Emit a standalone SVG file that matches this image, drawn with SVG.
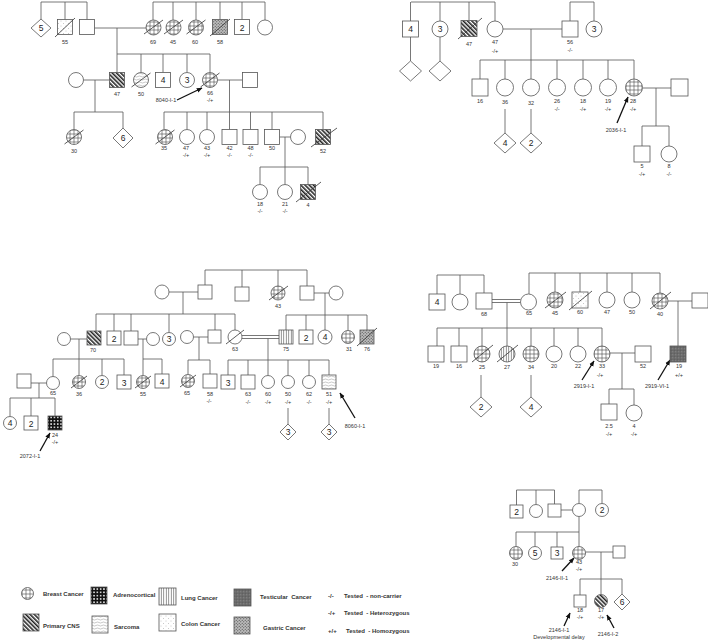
<svg xmlns="http://www.w3.org/2000/svg" width="708" height="642" viewBox="0 0 708 642">
<defs>
<style>
.sh{fill:#fff;stroke:#555;stroke-width:0.8}
.ln{fill:none;stroke:#555;stroke-width:0.8}
.sl{stroke:#333;stroke-width:0.8;fill:none}
.ar{stroke:#111;stroke-width:1.3;fill:none;marker-end:url(#ah)}
text{font-family:"Liberation Sans",Arial,sans-serif;fill:#333}
.lb{font-size:5.5px;text-anchor:middle}
.nm{font-size:8.5px;text-anchor:middle;fill:#222}
.lg{font-size:6px;font-weight:bold;fill:#333}
.br{fill:url(#pBreast)}
.cns{fill:url(#pCNS)}
.lu{fill:url(#pLung)}
.sa{fill:url(#pSarc)}
.co{fill:url(#pColon)}
.te{fill:url(#pTest)}
.ga{fill:url(#pGas)}
.ad{fill:url(#pAdr)}
</style>
<pattern id="pBreast" patternUnits="userSpaceOnUse" width="4" height="4"><rect width="4" height="4" fill="#fff"/><path d="M2,0V4M0,2H4" stroke="#444" stroke-width="0.6"/></pattern>
<pattern id="pCNS" patternUnits="userSpaceOnUse" width="3" height="3" patternTransform="rotate(-45)"><rect width="3" height="3" fill="#fff"/><rect width="1.6" height="3" fill="#222"/></pattern>
<pattern id="pLung" patternUnits="userSpaceOnUse" width="2.5" height="4"><rect width="2.5" height="4" fill="#fff"/><path d="M1.25,0V4" stroke="#333" stroke-width="0.6"/></pattern>
<pattern id="pSarc" patternUnits="userSpaceOnUse" width="6" height="3"><rect width="6" height="3" fill="#fff"/><path d="M0,1.5Q1.5,0.5 3,1.5T6,1.5" stroke="#777" stroke-width="0.4" fill="none"/></pattern>
<pattern id="pColon" patternUnits="userSpaceOnUse" width="5" height="5"><rect width="5" height="5" fill="#fff"/><circle cx="1" cy="1" r="0.4" fill="#888"/><circle cx="3.5" cy="3.5" r="0.4" fill="#888"/></pattern>
<pattern id="pTest" patternUnits="userSpaceOnUse" width="3" height="3"><rect width="3" height="3" fill="#6a6a6a"/><circle cx="0.8" cy="0.8" r="0.5" fill="#9a9a9a"/><circle cx="2.2" cy="2.2" r="0.4" fill="#444"/></pattern>
<pattern id="pGas" patternUnits="userSpaceOnUse" width="3" height="3"><rect width="3" height="3" fill="#bbb"/><circle cx="0.75" cy="0.75" r="0.6" fill="#444"/><circle cx="2.25" cy="2.25" r="0.6" fill="#444"/></pattern>
<pattern id="pAdr" patternUnits="userSpaceOnUse" width="3.3" height="3.3"><rect width="3.3" height="3.3" fill="#111"/><circle cx="1.65" cy="1.65" r="0.9" fill="#fff"/></pattern>
<marker id="ah" viewBox="0 0 10 10" refX="9" refY="5" markerWidth="4.5" markerHeight="4.5" orient="auto"><path d="M0,1L10,5L0,9z" fill="#111"/></marker>
</defs>
<rect width="708" height="642" fill="#fff"/>

<g id="connectors">
<path class="ln" d="M41,2H87M41,2V19M65,2V19.5M87,2V19.5M94.5,28H146M117,28V72.5M117,54H210M141,54V72.5M163,54V72.5M187,54V72.5M210,54V72.5M153,2H265M153,2V20M173,2V20M196,2V20M220,2V19.5M242,2V19.5M265,2V20M83.5,80H109.5M95,80V112M74,112H123M74,112V129.5M123,112V128M217.5,80H242.5M229.5,80V112M164,112H323M164,112V129.5M187,112V129.5M207,112V129.5M229.5,112V129.5M250.5,112V129.5M272,112V129.5M323,112V129.5M279.5,137H290.5M285,137V167M260,167H308M260,167V184.5M285,167V184.5M308,167V184.5"/>
<path class="ln" d="M411,2H495M410.5,2V21M440,2V21M469,2V20.5M495,2V21M410.5,37V61M440,37V61M503,29H562M570,2H594M570,2V21M594,2V21M531,29V79M480,60H634M480,60V79M505,60V79M557,60V79M583,60V79M608,60V79M634,60V79M642.5,88H671M656,88V126M642,126H669M642,126V146M669,126V146M505,109V133M531,109V133"/>
<path class="ln" d="M169,292H198M183,292V314M205,270H307M205,270V285M242,270V287M278,270V286M307,270V286M314,293H329M325,293V315M96,314H235M96,314V331M114,314V331M131,314V331M169,314V332.5M215,314V330M235,314V330M70.5,339H87M79,339V359M138,339H146.5M143,339V359M193.5,337H208M199,337V360M242,335.5H279M242,338.5H279M268,338.5V360M286,315H367M286,315V330M306,315V330M325,315V330M348,315V330.5M367,315V330M53,359H124M53,359V376.5M79,359V375.5M102,359V375.5M124,359V375M31,383H46.5M39,383V398M143,359H162M143,359V375.5M162,359V374M188,360H210M188,360V374.5M210,360V374M228,360H329M228,360V375M248,360V375M268,360V375.5M288,360V375.5M309,360V375.5M329,360V375M288,408V424M329,408V424M10,398H55M10,398V416.5M31,398V416M55,398V416"/>
<path class="ln" d="M437,275H484M437,275V294M460,275V294M484,275V293M492,299.5H520.5M492,302.5H520.5M507,302.5V328M529,273H660M529,273V294M555,273V292M580,273V292M607,273V292M632,273V292M660,273V293M668,301H692M678,301V346M437,328H602M437,328V346M459,328V346M482,328V346M507,328V346M531,328V346M554,328V346M578,328V346M602,328V346M610,353H635M622,353V389M609,389H634M609,389V404M634,389V405M481,375V397M531,375V397"/>
<path class="ln" d="M516.5,490H554.5M516.5,490V505M536,490V504.5M554.5,490V504M579,490H602M579,490V503.5M602,490V503.5M561,510H572.5M579,516.5V532M516,532H579M516,532V546.5M535,532V546.5M557,532V547M579,532V546.5M585.5,552H613M601,552V579M580,579H622M580,579V595M601,579V594.5M622,579V594"/>
<path class="ar" d="M177,100L202,88"/>
<path class="ar" d="M617,123L628,97"/>
<path class="ar" d="M355,418L340,393"/>
<path class="ar" d="M40,451L50,433"/>
<path class="ar" d="M582,380L594,361"/>
<path class="ar" d="M658,380L670,360"/>
<path class="ar" d="M562,571L574,558"/>
<path class="ar" d="M564,626L570,613"/>
<path class="ar" d="M614,628L607,615"/>
</g>

<!-- Pedigree 1 -->
<g id="p1-d5"><polygon class="sh" points="41,19 51,28 41,37 31,28"/><text class="nm" x="41" y="31">5</text></g>
<g id="p1-m55"><rect class="sh co" x="57.5" y="19.5" width="15" height="15"/><path class="sl" d="M55,37L75,18"/><text class="lb" x="65" y="44">55</text></g>
<g id="p1-m1"><rect class="sh" x="79.5" y="19.5" width="15" height="15"/></g>
<g id="p1-f69"><circle class="sh br" cx="153.5" cy="27.5" r="7.5"/><path class="sl" d="M144,34L163,20"/><text class="lb" x="153" y="44">69</text></g>
<g id="p1-f45"><circle class="sh br" cx="173.5" cy="27.5" r="7.5"/><path class="sl" d="M164,34L183,20"/><text class="lb" x="173" y="44">45</text></g>
<g id="p1-f60"><circle class="sh br" cx="196" cy="27.5" r="7.5"/><path class="sl" d="M186.5,34L205.5,20"/><text class="lb" x="195" y="44">60</text></g>
<g id="p1-m58"><rect class="sh ga" x="212.5" y="19.5" width="15" height="15"/><path class="sl" d="M210,36L230,19"/><text class="lb" x="220" y="44">58</text></g>
<g id="p1-m2"><rect class="sh" x="234.5" y="19.5" width="15" height="15"/><text class="nm" x="242" y="30.5">2</text></g>
<g id="p1-f1"><circle class="sh" cx="265" cy="27.5" r="7.5"/></g>
<g id="p1-f2"><circle class="sh" cx="76" cy="80" r="7.5"/></g>
<g id="p1-m47"><rect class="sh cns" x="109.5" y="72.5" width="15" height="15"/><text class="lb" x="117" y="96">47</text></g>
<g id="p1-f50"><circle class="sh sa" cx="141" cy="80" r="7.5"/><path class="sl" d="M131.5,87L150.5,73"/><text class="lb" x="141" y="96">50</text></g>
<g id="p1-m4"><rect class="sh" x="155.5" y="72.5" width="15" height="15"/><text class="nm" x="163" y="83">4</text></g>
<g id="p1-f3"><circle class="sh" cx="187" cy="80" r="7.5"/><text class="nm" x="187" y="83">3</text></g>
<g id="p1-f66"><circle class="sh br" cx="210" cy="80" r="7.5"/><path class="sl" d="M200.5,87L219.5,73"/><text class="lb" x="210" y="95">66</text><text class="lb" x="210" y="102">-/+</text><text class="lb" x="166" y="102">8040-I-1</text></g>
<g id="p1-m3"><rect class="sh" x="242.5" y="72.5" width="15" height="15"/></g>
<g id="p1-f30"><circle class="sh br" cx="74" cy="137" r="7.5"/><path class="sl" d="M64.5,144L83.5,130"/><text class="lb" x="74" y="153">30</text></g>
<g id="p1-d6"><polygon class="sh" points="123,128 133,138 123,148 113,138"/><text class="nm" x="123" y="141">6</text></g>
<g id="p1-f35"><circle class="sh br" cx="165" cy="137" r="7.5"/><path class="sl" d="M155.5,144L174.5,130"/><text class="lb" x="164" y="150">35</text></g>
<g id="p1-f47"><circle class="sh" cx="187" cy="137" r="7.5"/><text class="lb" x="186" y="150">47</text><text class="lb" x="186" y="157">-/+</text></g>
<g id="p1-f43"><circle class="sh" cx="207" cy="137" r="7.5"/><text class="lb" x="207" y="150">43</text><text class="lb" x="207" y="157">-/+</text></g>
<g id="p1-m42"><rect class="sh" x="222" y="129.5" width="15" height="15"/><text class="lb" x="229.5" y="150">42</text><text class="lb" x="229.5" y="157">-/-</text></g>
<g id="p1-m48"><rect class="sh" x="243" y="129.5" width="15" height="15"/><text class="lb" x="250.5" y="150">48</text><text class="lb" x="250.5" y="157">-/-</text></g>
<g id="p1-m50"><rect class="sh" x="264.5" y="129.5" width="15" height="15"/><text class="lb" x="272" y="150">50</text></g>
<g id="p1-f4"><circle class="sh" cx="298" cy="137" r="7.5"/></g>
<g id="p1-m52"><rect class="sh cns" x="315.5" y="129.5" width="15" height="15"/><path class="sl" d="M311,147L337,128"/><text class="lb" x="323" y="153">52</text></g>
<g id="p1-f18"><circle class="sh" cx="260" cy="192" r="7.5"/><text class="lb" x="260" y="206">18</text><text class="lb" x="260" y="213">-/-</text></g>
<g id="p1-f21"><circle class="sh" cx="285" cy="192" r="7.5"/><text class="lb" x="285" y="206">21</text><text class="lb" x="285" y="213">-/-</text></g>
<g id="p1-m4b"><rect class="sh cns" x="300.5" y="184.5" width="15" height="15"/><path class="sl" d="M296,202L321,182"/><text class="lb" x="308" y="207">4</text></g>

<!-- Pedigree 2 -->
<g id="p2-m4"><rect class="sh" x="402.5" y="21" width="16" height="16"/><text class="nm" x="410.5" y="32">4</text></g>
<g id="p2-d1"><polygon class="sh" points="410.5,61 421.5,71 410.5,81 399.5,71"/></g>
<g id="p2-f3"><circle class="sh" cx="440" cy="29" r="8"/><text class="nm" x="440" y="32">3</text></g>
<g id="p2-d2"><polygon class="sh" points="440,61 451,71 440,81 429,71"/></g>
<g id="p2-m47"><rect class="sh cns" x="461" y="20.5" width="16" height="16"/><path class="sl" d="M458,39L482,18"/><text class="lb" x="469" y="46">47</text></g>
<g id="p2-f47"><circle class="sh" cx="495" cy="29" r="8"/><text class="lb" x="495" y="44">47</text><text class="lb" x="495" y="53">-/+</text></g>
<g id="p2-m56"><rect class="sh" x="562" y="21" width="16" height="16"/><text class="lb" x="570" y="44">56</text><text class="lb" x="570" y="52">-/-</text></g>
<g id="p2-f3b"><circle class="sh" cx="594" cy="29" r="8"/><text class="nm" x="594" y="32">3</text></g>
<g id="p2-m16"><rect class="sh" x="472" y="79" width="16" height="17"/><text class="lb" x="480" y="103">16</text></g>
<g id="p2-f36"><circle class="sh" cx="505" cy="87.5" r="8.5"/><text class="lb" x="505" y="104">36</text></g>
<g id="p2-d4"><polygon class="sh" points="505,133 516,143 505,153 494,143"/><text class="nm" x="505" y="146">4</text></g>
<g id="p2-f32"><circle class="sh" cx="531" cy="87.5" r="8.5"/><text class="lb" x="531" y="105">32</text></g>
<g id="p2-d2b"><polygon class="sh" points="531,133 542,143 531,153 520,143"/><text class="nm" x="531" y="146">2</text></g>
<g id="p2-f26"><circle class="sh" cx="557" cy="87.5" r="8.5"/><text class="lb" x="557" y="103">26</text><text class="lb" x="557" y="111">-/-</text></g>
<g id="p2-f18"><circle class="sh" cx="583" cy="87.5" r="8.5"/><text class="lb" x="583" y="103">18</text><text class="lb" x="583" y="111">-/+</text></g>
<g id="p2-f19"><circle class="sh" cx="608" cy="87.5" r="8.5"/><text class="lb" x="608" y="103">19</text><text class="lb" x="608" y="111">-/+</text></g>
<g id="p2-f28"><circle class="sh br" cx="634" cy="87.5" r="8.5"/><text class="lb" x="633" y="103">28</text><text class="lb" x="633" y="111">-/+</text><text class="lb" x="616" y="132">2036-I-1</text></g>
<g id="p2-m1"><rect class="sh" x="671" y="79" width="17" height="17"/></g>
<g id="p2-m5"><rect class="sh" x="634" y="146" width="16" height="16"/><text class="lb" x="642" y="168">5</text><text class="lb" x="642" y="176">-/+</text></g>
<g id="p2-f8"><circle class="sh" cx="669" cy="154" r="8"/><text class="lb" x="669" y="168">8</text><text class="lb" x="669" y="176">-/-</text></g>

<!-- Pedigree 3 -->
<g id="p3-f1"><circle class="sh" cx="162" cy="292" r="7"/></g>
<g id="p3-m1"><rect class="sh" x="198" y="285" width="14" height="14"/></g>
<g id="p3-m2"><rect class="sh" x="235" y="287" width="14" height="14"/></g>
<g id="p3-f43"><circle class="sh br" cx="278" cy="293" r="7"/><path class="sl" d="M269,300L288,286"/><text class="lb" x="278" y="308">43</text></g>
<g id="p3-m3"><rect class="sh" x="300" y="286" width="14" height="14"/></g>
<g id="p3-f2"><circle class="sh" cx="336" cy="293" r="7"/></g>
<g id="p3-f3"><circle class="sh" cx="64" cy="339" r="6.5"/></g>
<g id="p3-m70"><rect class="sh cns" x="87" y="331" width="14" height="14"/><text class="lb" x="93" y="352">70</text></g>
<g id="p3-m2b"><rect class="sh" x="107" y="331" width="14" height="14"/><text class="nm" x="114" y="341.5">2</text></g>
<g id="p3-m4"><rect class="sh" x="124" y="331" width="14" height="14"/></g>
<g id="p3-f4"><circle class="sh" cx="153" cy="339" r="6.5"/></g>
<g id="p3-f3b"><circle class="sh" cx="169" cy="339" r="6.5"/><text class="nm" x="169" y="342">3</text></g>
<g id="p3-f5"><circle class="sh" cx="187" cy="337" r="6.5"/></g>
<g id="p3-m5"><rect class="sh" x="208" y="330" width="13" height="13"/></g>
<g id="p3-f63"><circle class="sh" cx="235" cy="337" r="7"/><path class="sl" d="M226,344L244,330"/><text class="lb" x="235" y="351">63</text></g>
<g id="p3-m75"><rect class="sh lu" x="279" y="330" width="14" height="14"/><text class="lb" x="286" y="351">75</text></g>
<g id="p3-m2c"><rect class="sh" x="299" y="330" width="14" height="14"/><text class="nm" x="306" y="340.5">2</text></g>
<g id="p3-f4b"><circle class="sh" cx="325" cy="337" r="7"/><text class="nm" x="325" y="340">4</text></g>
<g id="p3-f31"><circle class="sh br" cx="348" cy="337" r="6.5"/><text class="lb" x="349" y="351">31</text></g>
<g id="p3-m76"><rect class="sh ga" x="360" y="330" width="14" height="14"/><path class="sl" d="M357,346L377,328"/><text class="lb" x="367" y="351">76</text></g>
<g id="p3-m6"><rect class="sh" x="17" y="374" width="14" height="14"/></g>
<g id="p3-f65"><circle class="sh" cx="53" cy="383" r="6.5"/><text class="lb" x="53" y="395">65</text></g>
<g id="p3-f36"><circle class="sh br" cx="79" cy="382" r="6.5"/><path class="sl" d="M71,388L87,376"/><text class="lb" x="79" y="396">36</text></g>
<g id="p3-f2b"><circle class="sh" cx="102" cy="382" r="6.5"/><text class="nm" x="102" y="385">2</text></g>
<g id="p3-m3"><rect class="sh" x="117" y="375" width="14" height="14"/><text class="nm" x="124" y="385.5">3</text></g>
<g id="p3-f55"><circle class="sh br" cx="143" cy="382" r="6.5"/><path class="sl" d="M135,388L151,376"/><text class="lb" x="143" y="396">55</text></g>
<g id="p3-m4b"><rect class="sh" x="155" y="374" width="14" height="14"/><text class="nm" x="162" y="384.5">4</text></g>
<g id="p3-f65b"><circle class="sh br" cx="188" cy="381" r="6.5"/><path class="sl" d="M180,387L196,375"/><text class="lb" x="187" y="395">65</text></g>
<g id="p3-m58"><rect class="sh" x="203" y="374" width="14" height="14"/><text class="lb" x="210" y="396">58</text><text class="lb" x="209" y="403">-/-</text></g>
<g id="p3-m3b"><rect class="sh" x="221" y="375" width="14" height="14"/><text class="nm" x="228" y="385.5">3</text></g>
<g id="p3-m63"><rect class="sh" x="241" y="375" width="14" height="14"/><text class="lb" x="248" y="396">63</text><text class="lb" x="248" y="404">-/-</text></g>
<g id="p3-f60"><circle class="sh" cx="268" cy="382" r="6.5"/><text class="lb" x="268" y="396">60</text><text class="lb" x="268" y="404">-/+</text></g>
<g id="p3-f50"><circle class="sh" cx="288" cy="382" r="6.5"/><text class="lb" x="288" y="396">50</text><text class="lb" x="288" y="404">-/+</text></g>
<g id="p3-d3"><polygon class="sh" points="288,424 296,432 288,440 280,432"/><text class="nm" x="288" y="435">3</text></g>
<g id="p3-f62"><circle class="sh" cx="309" cy="382" r="6.5"/><text class="lb" x="309" y="396">62</text><text class="lb" x="309" y="404">-/-</text></g>
<g id="p3-m51"><rect class="sh sa" x="322" y="375" width="14" height="14"/><text class="lb" x="329" y="396">51</text><text class="lb" x="329" y="404">-/+</text><text class="lb" x="355" y="428">8060-I-1</text></g>
<g id="p3-d3b"><polygon class="sh" points="329,424 337,432 329,440 321,432"/><text class="nm" x="329" y="435">3</text></g>
<g id="p3-f4c"><circle class="sh" cx="10" cy="423" r="6.5"/><text class="nm" x="10" y="426">4</text></g>
<g id="p3-m2d"><rect class="sh" x="24" y="416" width="14" height="14"/><text class="nm" x="31" y="426.5">2</text></g>
<g id="p3-m24"><rect class="sh ad" x="48" y="416" width="14" height="14"/><text class="lb" x="55" y="437">24</text><text class="lb" x="55" y="444">-/+</text><text class="lb" x="30" y="458">2072-I-1</text></g>

<!-- Pedigree 4 -->
<g id="p4-m4"><rect class="sh" x="429" y="294" width="16" height="16"/><text class="nm" x="437" y="305">4</text></g>
<g id="p4-f1"><circle class="sh" cx="460" cy="302" r="8"/></g>
<g id="p4-m68"><rect class="sh" x="476" y="293" width="16" height="16"/><text class="lb" x="484" y="316">68</text></g>
<g id="p4-f65"><circle class="sh" cx="528.5" cy="302" r="8"/><text class="lb" x="529" y="315">65</text></g>
<g id="p4-f45"><circle class="sh br" cx="555" cy="300" r="8"/><path class="sl" d="M545,308L566,292"/><text class="lb" x="555" y="315">45</text></g>
<g id="p4-m60"><rect class="sh co" x="572" y="292" width="16" height="16"/><path class="sl" d="M569,310L592,291"/><text class="lb" x="580" y="314">60</text></g>
<g id="p4-f47"><circle class="sh" cx="607" cy="300" r="8"/><text class="lb" x="607" y="314">47</text></g>
<g id="p4-f50"><circle class="sh" cx="632" cy="300" r="8"/><text class="lb" x="632" y="314">50</text></g>
<g id="p4-f40"><circle class="sh br" cx="660" cy="301" r="8"/><path class="sl" d="M650,309L671,292"/><text class="lb" x="660" y="316">40</text></g>
<g id="p4-m1"><rect class="sh" x="692" y="293" width="16" height="15"/></g>
<g id="p4-m19b"><rect class="sh te" x="670" y="346" width="16" height="16"/><text class="lb" x="679" y="368">19</text><text class="lb" x="679" y="377">+/+</text><text class="lb" x="657" y="388">2919-VI-1</text></g>
<g id="p4-m19"><rect class="sh" x="428" y="346" width="16" height="16"/><text class="lb" x="436" y="368">19</text></g>
<g id="p4-m16"><rect class="sh" x="451" y="346" width="16" height="16"/><text class="lb" x="459" y="368">16</text></g>
<g id="p4-f25"><circle class="sh br" cx="482" cy="354" r="8"/><path class="sl" d="M472,362L493,345"/><text class="lb" x="482" y="369">25</text></g>
<g id="p4-d2"><polygon class="sh" points="481,397 492,407 481,417 470,407"/><text class="nm" x="481" y="410">2</text></g>
<g id="p4-f27"><circle class="sh lu" cx="507" cy="354" r="8"/><path class="sl" d="M497,362L518,345"/><text class="lb" x="507" y="369">27</text></g>
<g id="p4-f34"><circle class="sh br" cx="531" cy="354" r="8"/><text class="lb" x="531" y="369">34</text></g>
<g id="p4-d4"><polygon class="sh" points="531,397 542,407 531,417 520,407"/><text class="nm" x="531" y="410">4</text></g>
<g id="p4-f20"><circle class="sh" cx="554" cy="354" r="8"/><text class="lb" x="554" y="368">20</text></g>
<g id="p4-f22"><circle class="sh" cx="578" cy="354" r="8"/><text class="lb" x="578" y="368">22</text></g>
<g id="p4-f33"><circle class="sh br" cx="602" cy="354" r="8"/><text class="lb" x="602" y="368">33</text><text class="lb" x="600" y="377">-/+</text><text class="lb" x="584" y="388">2919-I-1</text></g>
<g id="p4-m52"><rect class="sh" x="635" y="346" width="16" height="16"/><text class="lb" x="643" y="368">52</text></g>
<g id="p4-m25"><rect class="sh" x="601" y="404" width="16" height="16"/><text class="lb" x="609" y="428">2.5</text><text class="lb" x="609" y="436">-/+</text></g>
<g id="p4-f4"><circle class="sh" cx="634" cy="413" r="8"/><text class="lb" x="634" y="428">4</text><text class="lb" x="634" y="436">-/+</text></g>

<!-- Pedigree 5 -->
<g id="p5-m2"><rect class="sh" x="510" y="505" width="13" height="13"/><text class="nm" x="516.5" y="514.5">2</text></g>
<g id="p5-f1"><circle class="sh" cx="536" cy="511" r="6.5"/></g>
<g id="p5-m1"><rect class="sh" x="548" y="504" width="13" height="13"/></g>
<g id="p5-f2"><circle class="sh" cx="579" cy="510" r="6.5"/></g>
<g id="p5-f2b"><circle class="sh" cx="602" cy="510" r="6.5"/><text class="nm" x="602" y="513">2</text></g>
<g id="p5-f30"><circle class="sh br" cx="516" cy="553" r="6.5"/><text class="lb" x="515" y="566">30</text></g>
<g id="p5-f5"><circle class="sh" cx="535" cy="553" r="6.5"/><text class="nm" x="535" y="556">5</text></g>
<g id="p5-m3"><rect class="sh" x="551" y="547" width="12" height="12"/><text class="nm" x="557" y="556">3</text></g>
<g id="p5-f43"><circle class="sh br" cx="579" cy="553" r="6.5"/><text class="lb" x="579" y="564">43</text><text class="lb" x="579" y="571">-/+</text><text class="lb" x="557" y="580">2146-II-1</text></g>
<g id="p5-m2b"><rect class="sh" x="613" y="546" width="12" height="12"/></g>
<g id="p5-m18"><rect class="sh" x="574" y="595" width="12" height="12"/><text class="lb" x="580" y="612">18</text><text class="lb" x="580" y="619">-/+</text><text class="lb" x="559" y="632">2146-I-1</text><text class="lb" x="559" y="638.5">Developmental delay</text></g>
<g id="p5-f17"><circle class="sh cns" cx="601" cy="601" r="6.5"/><text class="lb" x="601" y="612">17</text><text class="lb" x="601" y="619">-/+</text></g>
<g id="p5-d6"><polygon class="sh" points="622,594 630,602 622,610 614,602"/><text class="nm" x="622" y="605">6</text><text class="lb" x="608" y="636">2146-I-2</text></g>

<!-- Legend -->
<g id="legend">
<circle class="sh br" cx="27.5" cy="593.5" r="6"/><text class="lg" x="43" y="596">Breast Cancer</text>
<rect class="sh ad" x="91" y="587" width="16" height="17"/><text class="lg" x="113" y="597">Adrenocortical</text>
<rect class="sh lu" x="159" y="588" width="17" height="17"/><text class="lg" x="181" y="600">Lung Cancer</text>
<rect class="sh te" x="234" y="589" width="17" height="17"/><text class="lg" x="260" y="599" xml:space="preserve">Testicular  Cancer</text>
<text class="lg" x="328" y="598">-/-</text><text class="lg" x="344" y="598" xml:space="preserve">Tested  - non-carrier</text>
<rect class="sh cns" x="23" y="614" width="16" height="17"/><text class="lg" x="43" y="628">Primary CNS</text>
<rect class="sh sa" x="92" y="616" width="16" height="17"/><text class="lg" x="114" y="629">Sarcoma</text>
<rect class="sh co" x="159" y="614" width="17" height="17"/><text class="lg" x="181" y="626">Colon Cancer</text>
<rect class="sh ga" x="234" y="617" width="16" height="17"/><text class="lg" x="263" y="630">Gastric Cancer</text>
<text class="lg" x="328" y="615">-/+</text><text class="lg" x="344" y="615" xml:space="preserve">Tested  - Heterozygous</text>
<text class="lg" x="328" y="633">+/+</text><text class="lg" x="346" y="633" xml:space="preserve">Tested  - Homozygous</text>
</g>
</svg>
